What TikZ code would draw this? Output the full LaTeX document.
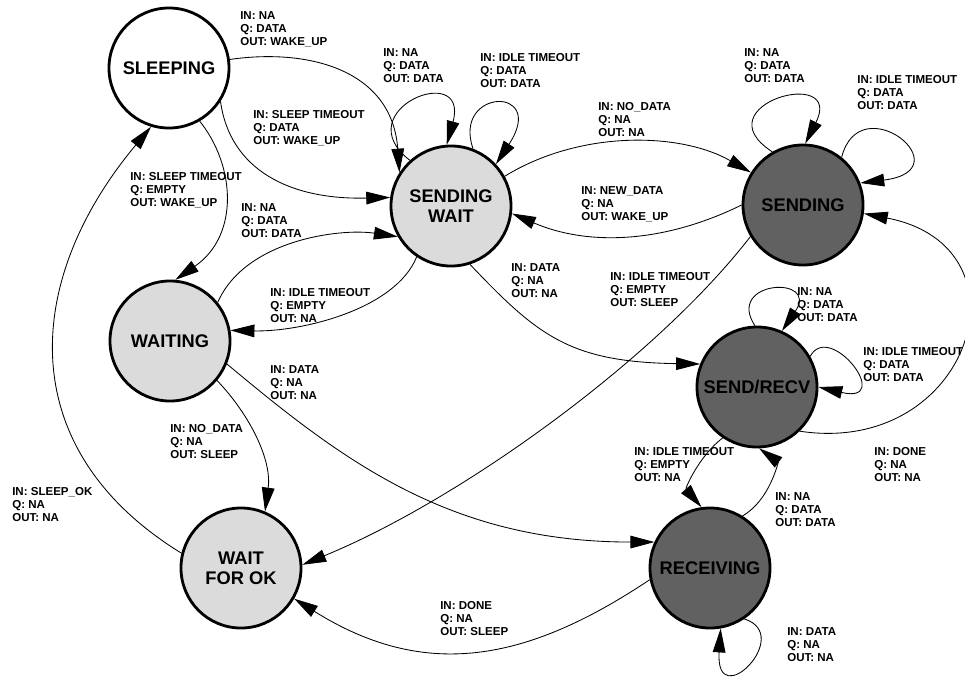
\documentclass[tikz,border=0pt]{standalone}
\usepackage{fontspec}
\setmainfont{Liberation Sans}
\usetikzlibrary{arrows.meta}
\newcommand{\stateFont}[0]{\fontsize{13}{14.5}\selectfont\bfseries}
\newcommand{\condFont}[0]{\fontsize{8.2}{9.45}\selectfont\bfseries}

\begin{document}
\begin{tikzpicture}[x=0.025cm, y=-0.025cm]
  \tikzset{
    state/.style={circle, draw, line width=2pt, minimum size=3cm, inner sep=0pt, align=center, font=\stateFont},
    idle/.style={state, fill=black!14},
    busy/.style={state, fill=black!62},
    cond/.style={anchor=north west, inner sep=0pt, align=left, font=\condFont},
    trans/.style={line width=0.6pt, -{Triangle[length=17pt, width=9pt]}}
  }
  \useasboundingbox (0,0) rectangle (965,679);

  % states
  \node[state, fill=white] (sleeping) at (169,68) {SLEEPING};
  \node[idle] (sendWait) at (451,206) {SENDING\\WAIT};
  \node[busy] (sending) at (803,205) {SENDING};
  \node[idle] (waiting) at (170,341) {WAITING};
  \node[busy] (sendRecv) at (757,387) {SEND/RECV};
  \node[idle] (waitOk) at (241,568) {WAIT\\FOR OK};
  \node[busy] (receiving) at (710,568) {RECEIVING};

  % transitions
  \draw[trans] (sleeping.8) .. controls (309,48) and (392,70) .. (sendWait.147);
  \draw[trans] (sleeping.-33) .. controls (230,170) and (290,200) .. (sendWait.172);
  \draw[trans] (sleeping.-60) .. controls (235,165) and (240,235) .. (waiting.85);
  \draw[trans] (waitOk.166) .. controls (12,449) and (23,280) .. (sleeping.-107);
  \draw[trans] (waiting.39) .. controls (245,240) and (340,228) .. (sendWait.-150);
  \draw[trans] (sendWait.-124) .. controls (395,310) and (300,332) .. (waiting.10);
  \draw[trans] (waiting.-40) .. controls (250,415) and (272,460) .. (waitOk.67);
  \draw[trans] (sendWait.132) .. controls (345,110) and (470,60) .. (sendWait.94);
  \draw[trans] (sendWait.69) .. controls (452,88) and (548,85) .. (sendWait.43);
  \draw[trans] (sendWait.29) .. controls (580,130) and (680,132) .. (sending.148);
  \draw[trans] (sending.180) .. controls (660,245) and (585,245) .. (sendWait.-7);
  \draw[trans] (sending.120) .. controls (700,105) and (845,65) .. (sending.88);
  \draw[trans] (sending.51) .. controls (860,85) and (965,170) .. (sending.21);
  \draw[trans] (sending.-149) .. controls (655,360) and (460,500) .. (waitOk.3);
  \draw[trans] (sendWait.-72) .. controls (538,336) and (570,362) .. (sendRecv.158);
  \draw[trans] (waiting.-22) .. controls (343,461) and (450,542) .. (receiving.155);
  \draw[trans] (receiving.-169) .. controls (525,663) and (424,680) .. (waitOk.-30);
  \draw[trans] (sendRecv.92) .. controls (725,280) and (820,275) .. (sendRecv.66);
  \draw[trans] (sendRecv.30) .. controls (830,320) and (895,405) .. (sendRecv.0);
  \draw[trans] (sendRecv.-46) .. controls (970,457) and (1037,247) .. (sending.-8);
  \draw[trans] (sendRecv.-124) .. controls (700,455) and (685,488) .. (receiving.98);
  \draw[trans] (receiving.58) .. controls (770,500) and (778,462) .. (sendRecv.-88);
  \draw[trans] (receiving.-56) .. controls (795,635) and (715,715) .. (receiving.-80);

  % conditions
  \node[cond] (cSlpWakeA) at (240,11) {IN: NA\\Q: DATA\\OUT: WAKE\_UP};
  \node[cond] (cSlpWakeB) at (253,110) {IN: SLEEP TIMEOUT\\Q: DATA\\OUT: WAKE\_UP};
  \node[cond] (cSlpWait) at (130,172) {IN: SLEEP TIMEOUT\\Q: EMPTY\\OUT: WAKE\_UP};
  \node[cond] (cWaitSw) at (241,203) {IN: NA\\Q: DATA\\OUT: DATA};
  \node[cond] (cSwWait) at (270,288) {IN: IDLE TIMEOUT\\Q: EMPTY\\OUT: NA};
  \node[cond] (cSwSelfA) at (383,48) {IN: NA\\Q: DATA\\OUT: DATA};
  \node[cond] (cSwSelfB) at (480,53) {IN: IDLE TIMEOUT\\Q: DATA\\OUT: DATA};
  \node[cond] (cSwSend) at (598,102) {IN: NO\_DATA\\Q: NA\\OUT: NA};
  \node[cond] (cSendSw) at (581,186) {IN: NEW\_DATA\\Q: NA\\OUT: WAKE\_UP};
  \node[cond] (cSendSelfA) at (744,48) {IN: NA\\Q: DATA\\OUT: DATA};
  \node[cond] (cSendSelfB) at (857,75) {IN: IDLE TIMEOUT\\Q: DATA\\OUT: DATA};
  \node[cond] (cSwSr) at (511,263) {IN: DATA\\Q: NA\\OUT: NA};
  \node[cond] (cSendOk) at (610,272) {IN: IDLE TIMEOUT\\Q: EMPTY\\OUT: SLEEP};
  \node[cond] (cWaitRecv) at (270,365) {IN: DATA\\Q: NA\\OUT: NA};
  \node[cond] (cWaitOk) at (170,424) {IN: NO\_DATA\\Q: NA\\OUT: SLEEP};
  \node[cond] (cOkSlp) at (12,487) {IN: SLEEP\_OK\\Q: NA\\OUT: NA};
  \node[cond] (cRecvOk) at (440,601) {IN: DONE\\Q: NA\\OUT: SLEEP};
  \node[cond] (cSrSelfA) at (797,287) {IN: NA\\Q: DATA\\OUT: DATA};
  \node[cond] (cSrSelfB) at (863,347) {IN: IDLE TIMEOUT\\Q: DATA\\OUT: DATA};
  \node[cond] (cSrRecv) at (634,447) {IN: IDLE TIMEOUT\\Q: EMPTY\\OUT: NA};
  \node[cond] (cRecvSr) at (775,492) {IN: NA\\Q: DATA\\OUT: DATA};
  \node[cond] (cSrSend) at (874,447) {IN: DONE\\Q: NA\\OUT: NA};
  \node[cond] (cRecvSelf) at (787,627) {IN: DATA\\Q: NA\\OUT: NA};
\end{tikzpicture}
\end{document}
